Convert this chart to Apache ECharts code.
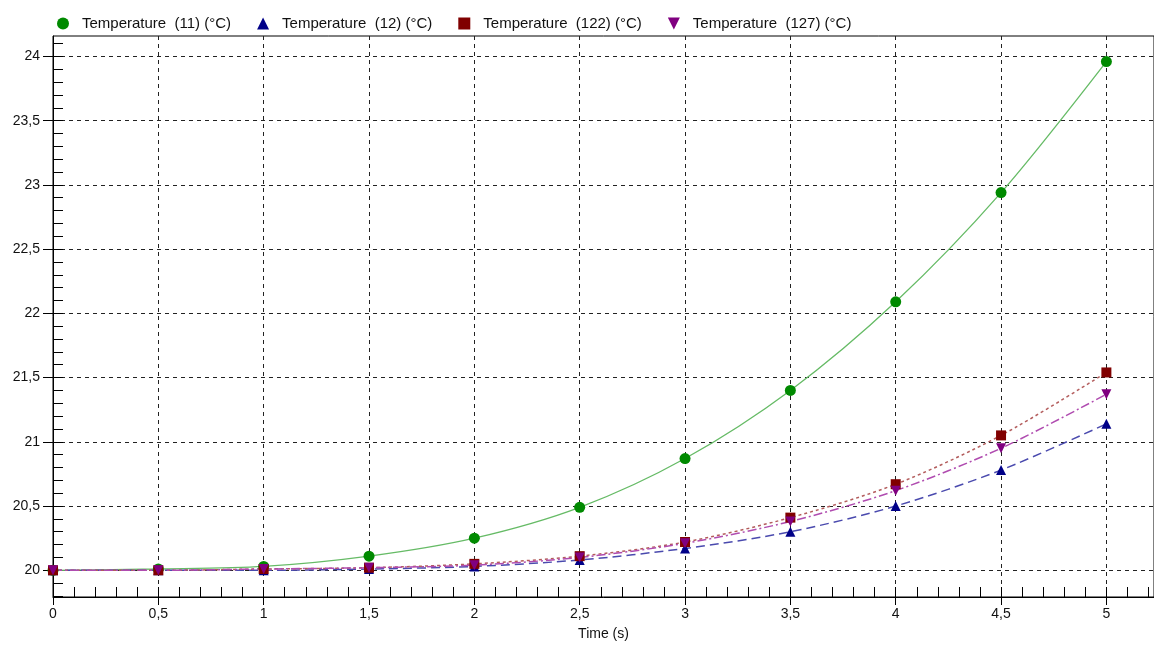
<!DOCTYPE html>
<html>
<head>
<meta charset="utf-8">
<script src="https://cdn.jsdelivr.net/npm/echarts@6/dist/echarts.min.js"></script>
<style>html,body{margin:0;padding:0;background:#fff}#c{width:1154px;height:646px}</style>
</head>
<body>
<div id="c"></div>
<script>
var xValues = [0, 0.5, 1, 1.5, 2, 2.5, 3, 3.5, 4, 4.5, 5];
var t11  = [20, 20.01, 20.03, 20.11, 20.25, 20.49, 20.87, 21.40, 22.09, 22.94, 23.96];
var t12  = [20, 20.00, 20.00, 20.01, 20.03, 20.08, 20.17, 20.30, 20.50, 20.78, 21.14];
var t122 = [20, 20.00, 20.01, 20.02, 20.05, 20.11, 20.22, 20.41, 20.67, 21.05, 21.54];
var t127 = [20, 20.00, 20.01, 20.02, 20.04, 20.10, 20.21, 20.38, 20.62, 20.95, 21.37];
var seriesNames = ['Temperature  (11) (°C)', 'Temperature  (12) (°C)', 'Temperature  (122) (°C)', 'Temperature  (127) (°C)'];
var xMajorTicks = [0, 0.5, 1, 1.5, 2, 2.5, 3, 3.5, 4, 4.5, 5];
var yMajorTicks = [20, 20.5, 21, 21.5, 22, 22.5, 23, 23.5, 24];
var xMinorTicks = [];
for (var i = 0; i <= 52; i++) xMinorTicks.push(i / 10);
var yMinorTicks = [];
for (var j = 198; j <= 241; j++) yMinorTicks.push(j / 10);

var FONT = "'Liberation Sans', Arial, sans-serif";
function pairs(ys) { return xValues.map(function (x, k) { return [x, ys[k]]; }); }
function fmt(v) { return String(v).replace('.', ','); }

var X_MIN = 0, X_MAX = 5.226, Y_MIN = 19.792, Y_MAX = 24.159;

var chart = echarts.init(document.getElementById('c'), null, {renderer: 'canvas'});
var gridLine = {show: true, lineStyle: {color: '#222', type: [4, 4], width: 1}};
var option = {
  animation: false,
  backgroundColor: '#fff',
  textStyle: {fontFamily: FONT},
  grid: {left: 53, top: 36, right: -2, bottom: 44, show: true, borderColor: '#000', borderWidth: 1, backgroundColor: 'transparent'},
  legend: {
    left: 52, top: 11, itemWidth: 12, itemHeight: 12, itemGap: 26,
    textStyle: {fontFamily: FONT, fontSize: 15, color: '#111', padding: [0, 0, 0, 8]},
    data: [
      {name: seriesNames[0], icon: 'circle'},
      {name: seriesNames[1], icon: 'triangle'},
      {name: seriesNames[2], icon: 'rect'},
      {name: seriesNames[3], icon: 'path://M0,0 L10,0 L5,10 Z'}
    ]
  },
  xAxis: [{
    type: 'value', min: X_MIN, max: X_MAX, position: 'bottom',
    name: 'Time (s)', nameLocation: 'middle', nameGap: 30,
    nameTextStyle: {fontFamily: FONT, fontSize: 14, color: '#111'},
    axisLine: {show: true, lineStyle: {color: '#000', width: 1}},
    axisTick: {show: true, inside: false, length: 8, customValues: xMajorTicks, lineStyle: {color: '#000'}},
    axisLabel: {show: true, customValues: xMajorTicks, formatter: fmt, fontFamily: FONT, fontSize: 14, color: '#111', margin: 10},
    splitLine: gridLine
  }, {
    type: 'value', min: X_MIN, max: X_MAX, position: 'bottom', offset: 0,
    axisLine: {show: false},
    axisTick: {show: true, inside: true, length: 10, customValues: xMinorTicks, lineStyle: {color: '#000'}},
    axisLabel: {show: false},
    splitLine: {show: false}
  }],
  yAxis: [{
    type: 'value', min: Y_MIN, max: Y_MAX, position: 'left',
    axisLine: {show: true, lineStyle: {color: '#000', width: 1}},
    axisTick: {show: true, inside: false, length: 10, customValues: yMajorTicks, lineStyle: {color: '#000'}},
    axisLabel: {show: true, customValues: yMajorTicks, formatter: fmt, fontFamily: FONT, fontSize: 14, color: '#111', margin: 13},
    splitLine: gridLine
  }, {
    type: 'value', min: Y_MIN, max: Y_MAX, position: 'left', offset: 0,
    axisLine: {show: false},
    axisTick: {show: true, inside: true, length: 10, customValues: yMinorTicks, lineStyle: {color: '#000'}},
    axisLabel: {show: false},
    splitLine: {show: false}
  }],
  series: [{
    name: seriesNames[0], type: 'line', data: pairs(t11), smooth: 0.3,
    symbol: 'circle', symbolSize: 11,
    itemStyle: {color: '#008a00'},
    lineStyle: {color: '#66bb66', width: 1.3, type: 'solid'}
  }, {
    name: seriesNames[1], type: 'line', data: pairs(t12), smooth: 0.3,
    symbol: 'triangle', symbolSize: 10,
    itemStyle: {color: '#000088'},
    lineStyle: {color: '#4a4aae', width: 1.5, type: [9, 5]}
  }, {
    name: seriesNames[2], type: 'line', data: pairs(t122), smooth: 0.3,
    symbol: 'rect', symbolSize: 10,
    itemStyle: {color: '#800000'},
    lineStyle: {color: '#b35c5c', width: 1.5, type: [3, 3]}
  }, {
    name: seriesNames[3], type: 'line', data: pairs(t127), smooth: 0.3,
    symbol: 'path://M0,0 L10,0 L5,10 Z', symbolSize: 10,
    itemStyle: {color: '#800080'},
    lineStyle: {color: '#b04cb0', width: 1.5, type: [9, 3, 2, 3]}
  }]
};
chart.setOption(option);
</script>
</body>
</html>
